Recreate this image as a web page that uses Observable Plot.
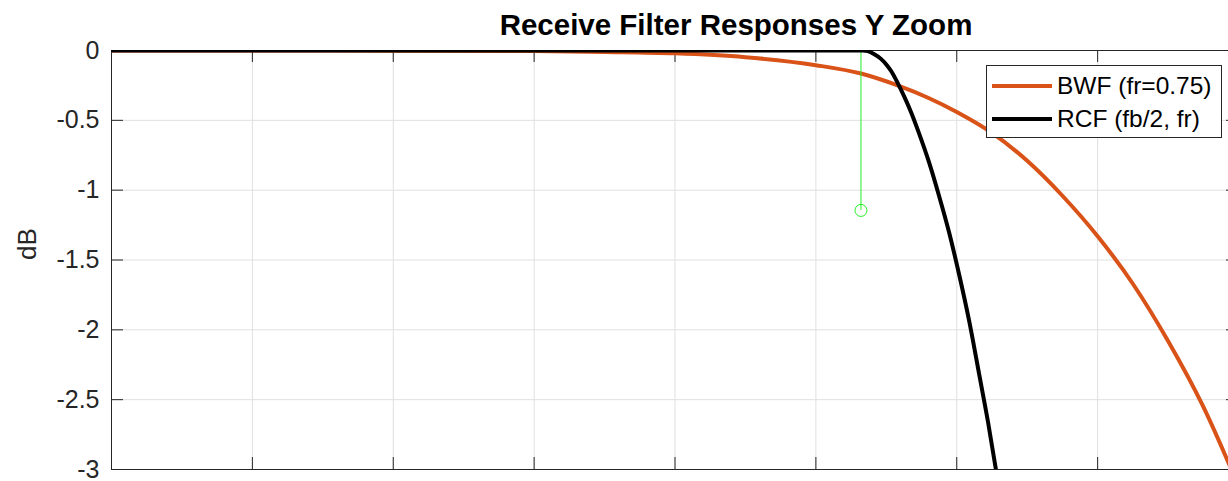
<!DOCTYPE html>
<html>
<head>
<meta charset="utf-8">
<script src="https://cdn.jsdelivr.net/npm/d3@7"></script>
<script src="https://cdn.jsdelivr.net/npm/@observablehq/plot@0.6"></script>
<style>
  html, body { margin: 0; padding: 0; overflow: hidden; background: #fff; }
  #wrap { position: relative; width: 1238px; height: 481px; font-family: "Liberation Sans", Arial, sans-serif; }
  #title { position: absolute; left: 236px; width: 1000px; top: 10px; text-align: center; z-index: 2;
           font-weight: bold; font-size: 29.5px; line-height: 30px; color: #000; }
  #legend { position: absolute; left: 986px; top: 65px; width: 236px; height: 73px; box-sizing: border-box; z-index: 2;
            border: 1px solid #262626; background: #fff; }
  .lg-row { position: absolute; left: 0; height: 30px; width: 100%; }
  .lg-text { position: absolute; left: 70px; top: 0; font-size: 24.5px; line-height: 24px; color: #000; white-space: nowrap; }
  .lg-swatch { position: absolute; left: 5px; width: 60px; top: 10px; height: 4px; }
</style>
</head>
<body>
<div id="wrap"><div id="title"></div><div id="legend"></div></div>
<script>
// ---- data ----
const titleText = "Receive Filter Responses Y Zoom";
const yLabel = "dB";
const yTicks = [0, -0.5, -1, -1.5, -2, -2.5, -3];
const xGrid = [0, 1, 2, 3, 4, 5, 6, 7, 8];

const seriesNames = ["BWF (fr=0.75)", "RCF (fb/2, fr)"];
const seriesColors = ["#D95319", "#000000"];

const bwfX  = [0, 1, 2, 3, 3.5, 4, 4.5, 5, 5.32, 5.58, 5.8, 6.0, 6.25, 6.5, 6.75, 7.0, 7.25, 7.5, 7.75, 8.0];
const bwfDb = [0, 0, -0.001, -0.004, -0.01, -0.02, -0.048, -0.105, -0.165, -0.25, -0.34, -0.44, -0.59, -0.79, -1.04, -1.33, -1.67, -2.08, -2.55, -3.12];

const rcfX  = [0, 1, 2, 3, 4, 5, 5.334, 5.369, 5.412, 5.462, 5.504, 5.533, 5.582, 5.625, 5.675, 5.724, 5.803, 5.874, 5.945, 6.016, 6.087, 6.165, 6.222, 6.278];
const rcfDb = [0, 0, 0, 0, 0, 0, 0, -0.005, -0.025, -0.06, -0.105, -0.145, -0.235, -0.325, -0.44, -0.57, -0.80, -1.04, -1.30, -1.60, -1.93, -2.35, -2.66, -3.0];

const stemX = [5.32];
const stemDb = [-1.145];

// ---- build ----
const bwf = bwfX.map((x, i) => ({x, y: bwfDb[i]}));
const rcf = rcfX.map((x, i) => ({x, y: rcfDb[i]}));
const stem = stemX.map((x, i) => ({x, y: stemDb[i]}));

const W = 1238, H = 481, mL = 111, mR = 0, mT = 50, mB = 12;
const fw = W - mL - mR, fh = H - mT - mB, tk = 12;
const axisColor = "#262626", gridColor = "#e0e0e0";

const chart = Plot.plot({
  width: W, height: H,
  marginLeft: mL, marginRight: mR, marginTop: mT, marginBottom: mB,
  style: {fontFamily: '"Liberation Sans", Arial, sans-serif', fontSize: "25px", color: axisColor, background: "transparent", overflow: "visible"},
  x: {domain: [0, 8], axis: null},
  y: {domain: [-3, 0], axis: null},
  marks: [
    Plot.ruleX(xGrid, {x: d => d, stroke: gridColor}),
    Plot.ruleY(yTicks, {y: d => d, stroke: gridColor}),
    Plot.frame({stroke: axisColor, strokeWidth: 1}),
    Plot.tickY(yTicks, {y: d => d, insetRight: fw - tk, stroke: axisColor}),
    Plot.tickY(yTicks, {y: d => d, insetLeft: fw - tk, stroke: axisColor}),
    Plot.tickX(xGrid, {x: d => d, insetBottom: fh - tk, stroke: axisColor}),
    Plot.tickX(xGrid, {x: d => d, insetTop: fh - tk, stroke: axisColor}),
    Plot.axisY(yTicks, {tickSize: 0, tickPadding: 12, fontSize: 25, tickFormat: d => String(d), fill: axisColor, label: null}),
    Plot.text([yLabel], {text: d => d, frameAnchor: "left", dx: -84, rotate: -90, fontSize: 26, fill: axisColor}),
    Plot.line(bwf, {x: "x", y: "y", stroke: seriesColors[0], strokeWidth: 4, curve: "monotone-x", clip: true}),
    Plot.ruleX(stem, {x: "x", y1: 0, y2: "y", stroke: "#22ee22", strokeWidth: 1}),
    Plot.dot(stem, {x: "x", y: "y", r: 6, stroke: "#22ee22", fill: "none", strokeWidth: 1}),
    Plot.line(rcf, {x: "x", y: "y", stroke: seriesColors[1], strokeWidth: 4, curve: "monotone-x", clip: true})
  ]
});
const wrap = document.getElementById("wrap");
wrap.appendChild(chart);
chart.style.position = "absolute";
chart.style.left = "0px";
chart.style.top = "0px";
chart.style.zIndex = "1";

document.getElementById("title").textContent = titleText;

const legend = document.getElementById("legend");
seriesNames.forEach((name, i) => {
  const row = document.createElement("div");
  row.className = "lg-row";
  row.style.top = (8 + i * 33) + "px";
  const sw = document.createElement("div");
  sw.className = "lg-swatch";
  sw.style.background = seriesColors[i];
  const tx = document.createElement("div");
  tx.className = "lg-text";
  tx.textContent = name;
  row.appendChild(sw);
  row.appendChild(tx);
  legend.appendChild(row);
});
</script>
</body>
</html>
